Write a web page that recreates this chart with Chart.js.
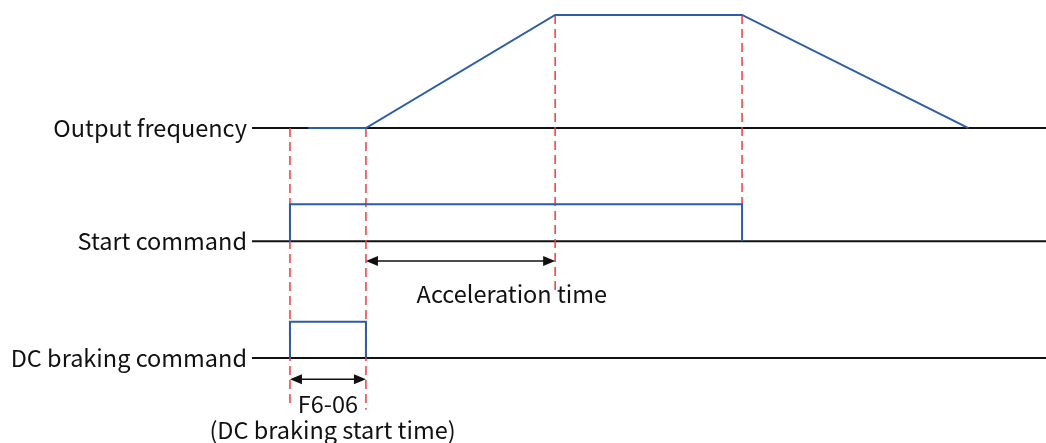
<!DOCTYPE html>
<html>
<head>
<meta charset="utf-8">
<script src="https://cdn.jsdelivr.net/npm/chart.js@4/dist/chart.umd.min.js"></script>
<style>
  html, body { margin: 0; padding: 0; background: #fff; }
  #wrap { width: 1046px; height: 443px; }
</style>
</head>
<body>
<div id="wrap"><canvas id="timing"></canvas></div>
<script>
// time axis: 0 = DC braking start, 1 = DC braking end / acceleration start
const laneNames = ['Output frequency', 'Start command', 'DC braking command'];
const laneBase = [6.3, 3.2, 0];
const laneHeight = [3.1, 1.01, 0.99];

const freqTime = [0.24, 1, 3.49, 5.95, 8.93];
const freqLevel = [0, 0, 1, 1, 0];
const startTime = [0, 0, 5.95, 5.95];
const startLevel = [0, 1, 1, 0];
const dcTime = [0, 0, 1, 1];
const dcLevel = [0, 1, 1, 0];

const axisFrom = -0.5;
const axisTo = 9.95;

// red dashed markers
const markerTime = [0, 1, 3.49, 5.95];
const markerTop = [6.3, 6.3, 9.4, 9.4];
const markerBottom = [-1.3, -1.42, 1.86, 4.22];

// double arrows with their captions
const arrowFrom = [1, 0];
const arrowTo = [3.49, 1];
const arrowY = [2.66, -0.58];
const captionText = ['Acceleration time', 'F6-06', '(DC braking start time)'];
const captionTime = [2.92, 0.5, 0.56];
const captionY = [1.75, -1.26, -1.97];

const blue = '#2b5ca8';
const red = '#f03c3c';

function pts(ts, lv, lane) {
  return ts.map((t, i) => ({ x: t, y: laneBase[lane] + lv[i] * laneHeight[lane] }));
}

const datasets = [];
// baselines
laneBase.forEach((b) => {
  datasets.push({
    data: [{ x: axisFrom, y: b }, { x: axisTo, y: b }],
    borderColor: '#111', borderWidth: 2, pointRadius: 0, showLine: true, order: 3
  });
});
// markers
markerTime.forEach((t, i) => {
  datasets.push({
    data: [{ x: t, y: markerTop[i] }, { x: t, y: markerBottom[i] }],
    borderColor: red, borderWidth: 1.5, borderDash: [9, 5], pointRadius: 0, showLine: true, order: 2
  });
});
// signals
datasets.push({ data: pts(freqTime, freqLevel, 0), borderColor: blue, borderWidth: 2, pointRadius: 0, showLine: true, order: 1 });
datasets.push({ data: pts(startTime, startLevel, 1), borderColor: blue, borderWidth: 2, pointRadius: 0, showLine: true, order: 1 });
datasets.push({ data: pts(dcTime, dcLevel, 2), borderColor: blue, borderWidth: 2, pointRadius: 0, showLine: true, order: 1 });

const fontFamily = '"Noto Sans CJK SC", "Noto Sans", sans-serif';

const labelsPlugin = {
  id: 'labels',
  afterDatasetsDraw(chart) {
    const c = chart.ctx;
    const xs = chart.scales.x, ys = chart.scales.y;
    c.save();
    c.fillStyle = '#111';
    c.font = '23.5px ' + fontFamily;
    c.textBaseline = 'middle';
    // lane names
    c.textAlign = 'right';
    laneNames.forEach((n, i) => {
      c.fillText(n, xs.getPixelForValue(axisFrom) - 5, ys.getPixelForValue(laneBase[i]));
    });
    // arrows
    c.strokeStyle = '#111';
    c.lineWidth = 1.5;
    arrowFrom.forEach((f, i) => {
      const x1 = xs.getPixelForValue(f), x2 = xs.getPixelForValue(arrowTo[i]);
      const y = ys.getPixelForValue(arrowY[i]);
      c.beginPath();
      c.moveTo(x1 + 4, y); c.lineTo(x2 - 4, y); c.stroke();
      c.beginPath();
      c.moveTo(x1, y); c.lineTo(x1 + 12, y - 5); c.lineTo(x1 + 12, y + 5); c.closePath();
      c.moveTo(x2, y); c.lineTo(x2 - 12, y - 5); c.lineTo(x2 - 12, y + 5); c.closePath();
      c.fill();
    });
    // captions
    c.textAlign = 'center';
    captionText.forEach((t, i) => {
      c.fillText(t, xs.getPixelForValue(captionTime[i]), ys.getPixelForValue(captionY[i]));
    });
    c.restore();
  }
};

new Chart(document.getElementById('timing'), {
  type: 'scatter',
  data: { datasets: datasets },
  options: {
    responsive: true,
    maintainAspectRatio: false,
    animation: false,
    layout: { padding: 0 },
    plugins: { legend: { display: false }, tooltip: { enabled: false } },
    scales: {
      x: { type: 'linear', display: false, min: -3.816, max: axisTo },
      y: { type: 'linear', display: false, min: -2.329, max: 9.808 }
    }
  },
  plugins: [labelsPlugin]
});
</script>
</body>
</html>
